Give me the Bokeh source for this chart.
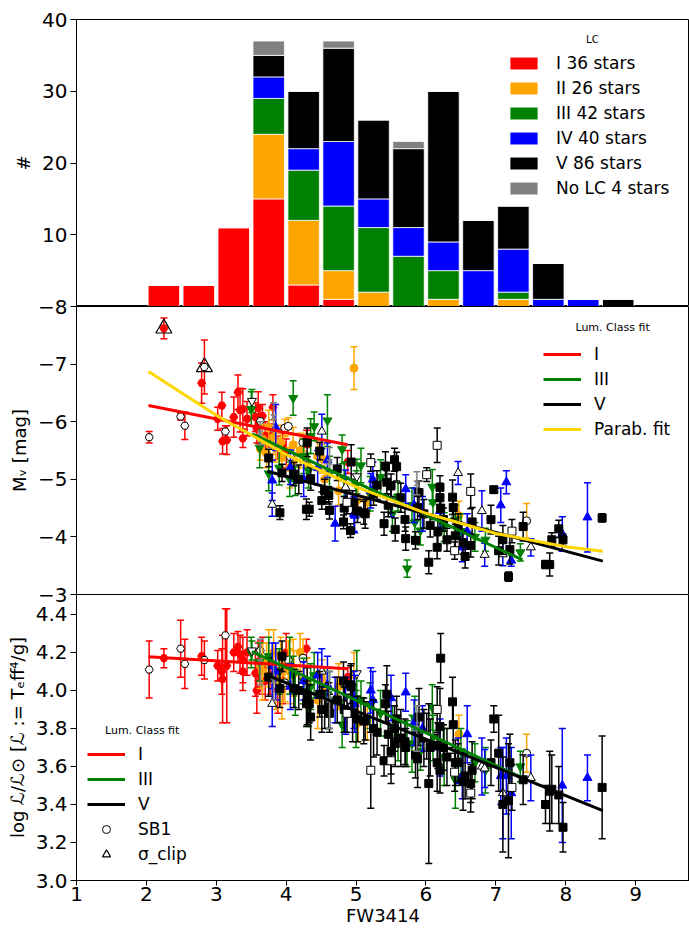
from bokeh.plotting import figure
from bokeh.models import (ColumnDataSource, Range1d, FixedTicker, Legend, LegendItem,
                          Label, PrintfTickFormatter)
from bokeh.layouts import column
from bokeh.embed import file_html
from bokeh.resources import INLINE

FONT = "DejaVu Sans"
RED, ORANGE, GREEN, BLUE, BLACK, GRAY, GOLD = ("#ff0000", "#ffa500", "#008000",
                                               "#0000ff", "#000000", "#808080", "#ffd700")

# ---------------- histogram (bins of 0.5 in FW3414) ----------------
hist_bin_centers = [2.25, 2.75, 3.25, 3.75, 4.25, 4.75, 5.25, 5.75, 6.25, 6.75, 7.25, 7.75, 8.25, 8.75]
hist_I = [3, 3, 11, 15, 3, 1, 0, 0, 0, 0, 0, 0, 0, 0]
hist_II = [0, 0, 0, 9, 9, 4, 2, 0, 1, 0, 1, 0, 0, 0]
hist_III = [0, 0, 0, 5, 7, 9, 9, 7, 4, 0, 1, 0, 0, 0]
hist_IV = [0, 0, 0, 3, 3, 9, 4, 4, 4, 5, 6, 1, 1, 0]
hist_V = [0, 0, 0, 3, 8, 13, 11, 11, 21, 7, 6, 5, 0, 1]
hist_NoLC = [0, 0, 0, 2, 0, 1, 0, 1, 0, 0, 0, 0, 0, 0]
hist_labels = ["I 36 stars", "II 26 stars", "III 42 stars", "IV 40 stars", "V 86 stars", "No LC 4 stars"]

# ---------------- stars per luminosity class ----------------
I_fw = [2.04, 2.25, 2.49, 2.55, 2.79, 2.83, 3.02, 3.08, 3.09, 3.13, 3.15, 3.25, 3.31, 3.34, 3.38, 3.38,
        3.44, 3.56, 3.58, 3.60, 3.62, 3.63, 3.66, 3.70, 3.77, 3.81, 3.88, 3.95, 4.00, 4.29, 4.88]
I_mv = [-5.73, -7.62, -6.09, -5.93, -6.67, -6.95, -6.05, -6.28, -5.66, -5.83, -5.68, -6.08, -6.51, -6.20,
        -6.22, -5.71, -6.05, -6.08, -5.88, -6.24, -5.93, -6.01, -6.10, -5.75, -5.76, -6.25, -5.55, -5.60,
        -5.45, -5.70, -5.30]
I_mv_err = [0.10, 0.18, 0.06, 0.24, 0.35, 0.47, 0.20, 0.23, 0.22, 0.10, 0.25, 0.35, 0.30, 0.38, 0.35, 0.16,
            0.30, 0.25, 0.25, 0.28, 0.30, 0.12, 0.20, 0.25, 0.20, 0.22, 0.20, 0.20, 0.25, 0.15, 0.20]
I_logl = [4.11, 4.17, 4.22, 4.14, 4.18, 4.16, 4.13, 4.10, 4.06, 4.29, 4.13, 4.20, 4.23, 4.19, 4.16, 4.10,
          4.20, 4.09, 4.00, 4.15, 4.12, 4.21, 4.13, 4.05, 4.08, 4.13, 4.00, 4.05, 4.20, 4.22, 4.07]
I_logl_err = [0.15, 0.05, 0.15, 0.13, 0.10, 0.10, 0.08, 0.12, 0.23, 0.14, 0.30, 0.10, 0.08, 0.10, 0.12, 0.10,
              0.12, 0.12, 0.12, 0.10, 0.10, 0.05, 0.15, 0.10, 0.10, 0.06, 0.12, 0.12, 0.10, 0.05, 0.05]
I_sb1 = [1, 0, 1, 1, 0, 1, 0, 0, 0, 1, 0, 0, 0, 0, 0, 0, 0, 0, 0, 0, 0, 1, 0, 0, 0, 0, 0, 0, 0, 0, 0]

II_fw = [3.63, 3.66, 3.72, 3.75, 3.82, 3.85, 3.92, 3.94, 3.98, 4.03, 4.05, 4.06, 4.10, 4.11, 4.20, 4.24,
         4.30, 4.45, 4.51, 4.55, 4.75, 4.97, 5.03, 5.16, 6.47, 7.44]
II_mv = [-5.53, -5.70, -5.45, -5.90, -5.73, -5.55, -5.64, -5.38, -5.89, -5.92, -5.20, -5.39, -5.60, -5.33,
         -5.50, -5.64, -5.25, -5.40, -5.36, -5.00, -4.80, -6.93, -4.65, -4.60, -4.37, -4.28]
II_mv_err = [0.20, 0.25, 0.25, 0.30, 0.30, 0.25, 0.30, 0.25, 0.15, 0.15, 0.35, 0.15, 0.30, 0.30, 0.30, 0.15,
             0.20, 0.25, 0.25, 0.30, 0.25, 0.37, 0.20, 0.20, 0.25, 0.30]
II_logl = [4.13, 4.10, 4.15, 4.17, 4.20, 4.05, 4.18, 4.00, 4.04, 4.16, 4.10, 4.03, 4.12, 4.09, 4.20, 4.17,
           4.05, 3.95, 4.06, 4.00, 4.02, 4.08, 3.83, 3.84, 3.77, 3.67]
II_logl_err = [0.12, 0.15, 0.10, 0.15, 0.12, 0.15, 0.10, 0.15, 0.10, 0.10, 0.12, 0.10, 0.15, 0.12, 0.10, 0.10,
               0.12, 0.15, 0.10, 0.12, 0.12, 0.12, 0.10, 0.10, 0.10, 0.10]
II_sb1 = [0, 0, 0, 0, 0, 0, 0, 0, 1, 1, 0, 1, 0, 0, 0, 1, 0, 0, 0, 0, 0, 0, 0, 0, 0, 1]

III_fw = [3.50, 3.51, 3.62, 3.75, 3.90, 4.05, 4.10, 4.13, 4.25, 4.32, 4.35, 4.40, 4.59, 4.62, 4.80, 4.83,
          5.00, 5.01, 5.07, 5.20, 5.35, 5.52, 5.60, 5.73, 5.80, 5.84, 5.92, 6.09, 6.10, 6.26, 6.42, 6.50,
          6.70, 6.85, 7.35]
III_mv = [-6.22, -6.36, -5.55, -5.10, -5.20, -5.00, -6.41, -4.97, -5.40, -5.15, -5.75, -5.92, -6.02, -5.10,
          -5.52, -5.00, -4.90, -5.05, -5.24, -4.75, -5.04, -4.40, -4.70, -3.45, -4.55, -4.25, -4.11, -4.87,
          -4.60, -4.17, -4.30, -4.10, -4.00, -3.95, -3.73]
III_mv_err = [0.30, 0.20, 0.35, 0.30, 0.30, 0.30, 0.30, 0.25, 0.30, 0.30, 0.30, 0.25, 0.45, 0.30, 0.25, 0.30,
              0.25, 0.30, 0.30, 0.30, 0.30, 0.30, 0.25, 0.15, 0.30, 0.25, 0.25, 0.30, 0.30, 0.25, 0.25, 0.30,
              0.25, 0.20, 0.15]
III_logl = [4.20, 4.21, 4.15, 4.18, 4.10, 4.13, 4.08, 3.99, 4.05, 3.91, 4.02, 4.08, 3.98, 3.95, 3.82, 3.90,
            3.85, 4.09, 3.95, 3.92, 3.88, 3.80, 3.75, 3.72, 3.72, 3.85, 3.68, 3.91, 3.75, 3.65, 3.53, 3.68,
            3.62, 3.58, 3.60]
III_logl_err = [0.08, 0.05, 0.10, 0.10, 0.12, 0.15, 0.10, 0.12, 0.12, 0.10, 0.12, 0.12, 0.12, 0.15, 0.12, 0.12,
                0.15, 0.12, 0.10, 0.12, 0.12, 0.12, 0.12, 0.12, 0.15, 0.12, 0.10, 0.12, 0.12, 0.15, 0.15, 0.12,
                0.10, 0.12, 0.08]
III_sb1 = [0, 1, 0, 0, 0, 0, 0, 0, 0, 0, 0, 0, 0, 0, 0, 0, 0, 1, 0, 0, 0, 0, 0, 0, 0, 0, 0, 0, 0, 0,
           0, 0, 0, 0, 0]

IV_fw = [3.80, 3.80, 3.85, 4.06, 4.25, 4.45, 4.51, 4.59, 4.70, 4.85, 4.97, 4.98, 5.21, 5.24, 5.50, 5.71,
         5.83, 5.95, 6.20, 6.46, 6.52, 6.59, 6.80, 6.84, 7.07, 7.10, 7.15, 7.22, 7.50, 7.95, 8.31]
IV_mv = [-4.98, -4.56, -5.90, -5.21, -5.00, -5.20, -5.83, -5.33, -4.23, -4.86, -4.40, -4.37, -4.80, -5.00,
         -4.65, -4.83, -4.55, -4.40, -4.45, -5.11, -3.82, -4.10, -4.45, -3.69, -4.55, -3.70, -4.95, -3.59,
         -3.82, -4.05, -4.34]
IV_mv_err = [0.35, 0.20, 0.40, 0.30, 0.30, 0.30, 0.30, 0.30, 0.30, 0.30, 0.30, 0.30, 0.30, 0.30, 0.30, 0.25,
             0.30, 0.30, 0.30, 0.20, 0.25, 0.30, 0.35, 0.20, 0.30, 0.20, 0.20, 0.10, 0.15, 0.30, 0.60]
IV_logl = [4.13, 3.93, 4.10, 4.02, 4.05, 4.08, 4.10, 4.03, 3.95, 3.92, 3.95, 3.93, 4.00, 3.95, 3.96, 3.99,
           3.83, 3.80, 3.70, 3.63, 3.55, 3.77, 3.60, 3.59, 3.55, 3.46, 3.55, 3.46, 3.54, 3.50, 3.54]
IV_logl_err = [0.12, 0.12, 0.15, 0.12, 0.10, 0.12, 0.12, 0.15, 0.12, 0.15, 0.15, 0.15, 0.12, 0.15, 0.12, 0.10,
               0.12, 0.12, 0.15, 0.12, 0.12, 0.15, 0.15, 0.10, 0.15, 0.24, 0.20, 0.24, 0.12, 0.30, 0.12]
IV_sb1 = [0, 1, 0, 0, 0, 0, 1, 0, 0, 1, 0, 0, 0, 0, 0, 0, 0, 0, 0, 1, 0, 0, 1, 1, 0, 1, 0, 0, 1, 0, 0]

V_fw = [3.75, 3.91, 3.94, 4.11, 4.18, 4.29, 4.30, 4.33, 4.35, 4.48,
        4.51, 4.55, 4.61, 4.62, 4.73, 4.82, 4.83, 4.92, 4.93, 4.95,
        5.02, 5.11, 5.13, 5.25, 5.30, 5.40, 5.42, 5.44, 5.46, 5.50,
        5.55, 5.56, 5.58, 5.64, 5.70, 5.71, 5.85, 5.88, 5.90, 5.97,
        6.04, 6.06, 6.16, 6.17, 6.20, 6.20, 6.21, 6.25, 6.30, 6.38,
        6.39, 6.42, 6.46, 6.53, 6.56, 6.64, 6.66, 6.93, 6.97, 7.04,
        7.10, 7.18, 7.20, 7.39, 7.71, 7.77, 7.80, 7.90, 7.96, 8.52,
        5.21, 6.01, 6.16, 6.64, 6.41, 4.87, 7.23, 5.50]
V_mv = [-5.37, -4.42, -5.11, -5.09, -5.00, -4.48, -5.64, -4.48, -5.01, -5.49,
        -4.63, -4.80, -4.72, -4.46, -5.18, -4.26, -4.50, -4.11, -5.30, -4.60,
        -4.45, -4.42, -4.40, -4.75, -4.90, -4.23, -5.23, -4.95, -4.55, -4.89,
        -5.34, -4.13, -5.22, -4.68, -4.30, -3.97, -3.94, -4.50, -4.77, -4.40,
        -3.56, -4.20, -3.82, -4.10, -4.86, -4.68, -4.50, -4.30, -3.95, -4.69,
        -4.51, -4.02, -4.20, -3.90, -3.66, -3.85, -4.26, -4.30, -4.82, -3.76,
        -3.95, -3.31, -3.78, -4.18, -3.52, -3.52, -3.95, -4.14, -3.95, -4.33,
        -5.29, -5.08, -5.59, -4.79, -3.76, -4.60, -4.10, -4.62]
V_mv_err = [0.15, 0.12, 0.15, 0.20, 0.25, 0.18, 0.25, 0.12, 0.20, 0.15,
            0.15, 0.20, 0.15, 0.15, 0.20, 0.12, 0.20, 0.12, 0.30, 0.20,
            0.20, 0.20, 0.25, 0.20, 0.25, 0.20, 0.25, 0.20, 0.20, 0.20,
            0.20, 0.20, 0.25, 0.25, 0.20, 0.20, 0.15, 0.20, 0.20, 0.25,
            0.20, 0.20, 0.20, 0.25, 0.20, 0.25, 0.20, 0.20, 0.20, 0.30,
            0.20, 0.20, 0.20, 0.20, 0.20, 0.20, 0.25, 0.25, 0.05, 0.25,
            0.25, 0.08, 0.25, 0.25, 0.07, 0.20, 0.12, 0.15, 0.10, 0.07,
            0.15, 0.12, 0.30, 0.30, 0.15, 0.20, 0.20, 0.20]
V_logl = [4.07, 4.01, 4.18, 4.01, 4.00, 3.93, 3.97, 3.93, 3.86, 3.98,
          3.90, 3.90, 3.92, 3.88, 3.95, 4.05, 3.90, 4.03, 4.02, 3.88,
          3.85, 3.84, 3.84, 3.80, 3.78, 3.63, 3.93, 3.98, 3.77, 3.68,
          3.80, 3.72, 3.85, 3.75, 3.73, 3.70, 3.66, 3.64, 3.86, 3.75,
          3.51, 3.70, 3.62, 3.71, 3.81, 3.58, 4.17, 3.70, 3.65, 3.94,
          3.82, 3.62, 3.62, 3.52, 3.55, 3.51, 3.58, 3.62, 3.85, 3.67,
          3.40, 3.42, 3.62, 3.53, 3.40, 3.47, 3.48, 3.45, 3.28, 3.49,
          3.58, 3.76, 3.90, 3.46, 3.57, 3.88, 3.49, 3.63]
V_logl_err = [0.10, 0.10, 0.08, 0.10, 0.10, 0.12, 0.15, 0.10, 0.12, 0.12,
              0.12, 0.10, 0.12, 0.10, 0.12, 0.10, 0.12, 0.10, 0.12, 0.15,
              0.12, 0.12, 0.10, 0.15, 0.12, 0.08, 0.10, 0.15, 0.12, 0.12,
              0.12, 0.12, 0.12, 0.15, 0.12, 0.10, 0.12, 0.15, 0.15, 0.15,
              0.42, 0.15, 0.15, 0.12, 0.20, 0.12, 0.13, 0.12, 0.15, 0.13,
              0.12, 0.12, 0.10, 0.15, 0.12, 0.10, 0.15, 0.12, 0.07, 0.20,
              0.25, 0.30, 0.15, 0.13, 0.10, 0.21, 0.18, 0.15, 0.13, 0.27,
              0.20, 0.12, 0.12, 0.10, 0.10, 0.10, 0.12, 0.12]
V_sb1 = [0, 0, 0, 0, 0, 0, 0, 0, 0, 0,
         0, 0, 0, 0, 0, 0, 0, 0, 0, 0,
         0, 0, 0, 0, 0, 0, 0, 0, 0, 0,
         0, 0, 0, 0, 0, 0, 0, 0, 0, 0,
         0, 0, 0, 0, 0, 0, 0, 0, 0, 0,
         0, 0, 0, 0, 0, 0, 0, 0, 0, 0,
         0, 0, 0, 0, 0, 0, 0, 0, 0, 0,
         1, 1, 1, 1, 1, 1, 1, 1]

NoLC_fw = [3.63, 3.82, 4.62, 5.87]
NoLC_mv = [-5.80, -6.08, -5.30, -4.93]
NoLC_mv_err = [0.20, 0.25, 0.25, 0.20]
NoLC_logl = [4.15, 4.05, 3.95, 3.80]
NoLC_logl_err = [0.12, 0.10, 0.15, 0.12]
NoLC_sb1 = [0, 0, 0, 0]

clip_fw = [2.25, 2.83]
clip_mv = [-7.62, -6.95]

# ---------------- fits ----------------
fitI_fw = [2.03, 4.88]
fitI_mv = [-6.28, -5.60]
fitI_logl = [4.178, 4.114]
fitIII_fw = [3.51, 7.38]
fitIII_mv = [-5.79, -3.60]
fitIII_logl = [4.204, 3.54]
fitV_fw = [3.73, 8.53]
fitV_mv = [-5.14, -3.58]
fitV_logl = [4.08, 3.368]
parab_fw = [2.03, 3.0, 4.0, 5.0, 6.0, 7.0, 8.0, 8.53]
parab_mv = [-6.87, -6.11, -5.43, -4.87, -4.41, -4.06, -3.83, -3.75]

# legend proxies (placed outside the visible x range)
proxy_fw = [0.0]
proxy_logl = [3.5]

xr = Range1d(1.0, 9.77)
OVER = 12  # px of overlap between stacked canvases, so edge tick labels are not cut


def style(p):
    p.outline_line_color = "black"
    p.outline_line_width = 1
    p.xgrid.visible = False
    p.ygrid.visible = False
    p.background_fill_color = "white"
    for ax in p.axis:
        ax.major_label_text_font = FONT
        ax.major_label_text_font_size = "20px"
        ax.major_label_text_color = "black"
        ax.axis_label_text_font = FONT
        ax.axis_label_text_font_size = "18px"
        ax.axis_label_text_font_style = "normal"
        ax.axis_label_text_color = "black"
        ax.major_tick_in = 0
        ax.major_tick_out = 6
        ax.minor_tick_in = 0
        ax.minor_tick_out = 0
        ax.axis_line_color = "black"
        ax.major_tick_line_color = "black"
        ax.major_label_standoff = 3


common = dict(width=689, x_range=xr, output_backend="svg", toolbar_location=None,
              min_border_left=76, min_border_right=0)

# ---------------- top: histogram ----------------
p1 = figure(height=306, y_range=Range1d(0, 40), x_axis_location=None,
            min_border_top=19, min_border_bottom=0, **common)
style(p1)
p1.border_fill_color = "white"
p1.yaxis.ticker = FixedTicker(ticks=[0, 10, 20, 30, 40])
p1.yaxis.major_label_overrides = {0: ""}
p1.yaxis.axis_label = "#"

src_h = ColumnDataSource(dict(x=hist_bin_centers, I=hist_I, II=hist_II, III=hist_III,
                              IV=hist_IV, V=hist_V, NoLC=hist_NoLC))
hist_r = p1.vbar_stack(["I", "II", "III", "IV", "V", "NoLC"], x="x", width=0.45, source=src_h,
                       fill_color=[RED, ORANGE, GREEN, BLUE, BLACK, GRAY],
                       line_color="white", line_width=0.8)
leg1 = Legend(items=[LegendItem(label=l, renderers=[r]) for l, r in zip(hist_labels, hist_r)],
              location=(430, 108), glyph_width=35, glyph_height=16, label_standoff=15,
              label_height=20, spacing=5, padding=4, margin=0,
              label_text_font=FONT, label_text_font_size="17px", label_text_color="black",
              background_fill_alpha=0, border_line_color=None)
p1.add_layout(leg1)
p1.add_layout(Label(x=8.38, y=37.2, text="LC", text_font=FONT, text_font_size="10px",
                    text_align="center", text_baseline="middle", text_color="black"))


def draw_class(p, fw, yv, ye, sb1, color, marker, size):
    lo = [v - e for v, e in zip(yv, ye)]
    hi = [v + e for v, e in zip(yv, ye)]
    src = ColumnDataSource(dict(x=fw, y=yv, lo=lo, hi=hi))
    p.segment(x0="x", y0="lo", x1="x", y1="hi", source=src, line_color=color, line_width=1.5)
    p.scatter(x="x", y="lo", marker="dash", size=7, source=src, line_color=color, line_width=1.5)
    p.scatter(x="x", y="hi", marker="dash", size=7, source=src, line_color=color, line_width=1.5)
    fi = [i for i, s in enumerate(sb1) if not s]
    oi = [i for i, s in enumerate(sb1) if s]
    if fi:
        if marker == "x":
            p.scatter([fw[i] for i in fi], [yv[i] for i in fi], marker=marker, size=size,
                      line_color=color, line_width=1.5)
        else:
            p.scatter([fw[i] for i in fi], [yv[i] for i in fi], marker=marker, size=size,
                      fill_color=color, line_color=color)
    if oi:
        p.scatter([fw[i] for i in oi], [yv[i] for i in oi], marker=marker, size=size,
                  fill_color="white", line_color="black", line_width=1)


classes = [
    (I_fw, I_mv, I_mv_err, I_logl, I_logl_err, I_sb1, RED, "hex", 8),
    (II_fw, II_mv, II_mv_err, II_logl, II_logl_err, II_sb1, ORANGE, "circle", 8),
    (III_fw, III_mv, III_mv_err, III_logl, III_logl_err, III_sb1, GREEN, "inverted_triangle", 9),
    (IV_fw, IV_mv, IV_mv_err, IV_logl, IV_logl_err, IV_sb1, BLUE, "triangle", 9),
    (V_fw, V_mv, V_mv_err, V_logl, V_logl_err, V_sb1, BLACK, "square", 8),
    (NoLC_fw, NoLC_mv, NoLC_mv_err, NoLC_logl, NoLC_logl_err, NoLC_sb1, GRAY, "x", 8),
]

# ---------------- middle: Mv ----------------
p2 = figure(height=288 + 2 * OVER, y_range=Range1d(-3, -8), x_axis_location=None,
            min_border_top=OVER, min_border_bottom=OVER, margin=(-OVER, 0, 0, 0), **common)
style(p2)
p2.border_fill_color = None
p2.yaxis.ticker = FixedTicker(ticks=[-8, -7, -6, -5, -4, -3])
p2.yaxis.major_label_overrides = {-8: "\u22128", -7: "\u22127", -6: "\u22126",
                                  -5: "\u22125", -4: "\u22124", -3: "\u22123"}
p2.yaxis.axis_label = "M\u1d65 [mag]"
for fw, mv, mve, ll, lle, sb, col, mk, sz in classes:
    draw_class(p2, fw, mv, mve, sb, col, mk, sz)
p2.scatter(clip_fw, clip_mv, marker="triangle", size=16, fill_color=None,
           line_color="black", line_width=1.2)
l2I = p2.line(fitI_fw, fitI_mv, line_color=RED, line_width=3)
l2III = p2.line(fitIII_fw, fitIII_mv, line_color=GREEN, line_width=3)
l2V = p2.line(fitV_fw, fitV_mv, line_color=BLACK, line_width=3)
l2P = p2.line(parab_fw, parab_mv, line_color=GOLD, line_width=3)
leg2 = Legend(items=[LegendItem(label="I", renderers=[l2I]), LegendItem(label="III", renderers=[l2III]),
                     LegendItem(label="V", renderers=[l2V]), LegendItem(label="Parab. fit", renderers=[l2P])],
              location=(467, 155), glyph_width=38, glyph_height=20, label_standoff=13,
              label_height=20, spacing=5, padding=4, margin=0,
              label_text_font=FONT, label_text_font_size="17px", label_text_color="black",
              background_fill_alpha=0, border_line_color=None)
p2.add_layout(leg2)
p2.add_layout(Label(x=8.67, y=-7.64, text="Lum. Class fit", text_font=FONT, text_font_size="11px",
                    text_align="center", text_baseline="middle", text_color="black"))

# ---------------- bottom: log L ----------------
p3 = figure(height=334, y_range=Range1d(3.0, 4.505), min_border_top=0, min_border_bottom=0,
            margin=(-OVER, 0, 0, 0), **common)
style(p3)
p3.border_fill_color = None
p3.yaxis.ticker = FixedTicker(ticks=[3.0, 3.2, 3.4, 3.6, 3.8, 4.0, 4.2, 4.4])
p3.yaxis.formatter = PrintfTickFormatter(format="%.1f")
p3.yaxis.axis_label = "log \u2112/\u2112\u2299 [\u2112 := T\u2091ff\u2074/g]"
p3.xaxis.ticker = FixedTicker(ticks=[1, 2, 3, 4, 5, 6, 7, 8, 9])
p3.xaxis.axis_label = "FW3414"
p3.xaxis.major_label_standoff = 1
p3.xaxis.axis_label_standoff = 1
p3.xaxis.major_tick_out = 5
for fw, mv, mve, ll, lle, sb, col, mk, sz in classes:
    draw_class(p3, fw, ll, lle, sb, col, mk, sz)
l3I = p3.line(fitI_fw, fitI_logl, line_color=RED, line_width=3)
l3III = p3.line(fitIII_fw, fitIII_logl, line_color=GREEN, line_width=3)
l3V = p3.line(fitV_fw, fitV_logl, line_color=BLACK, line_width=3)
r_sb1 = p3.scatter(proxy_fw, proxy_logl, marker="circle", size=8, fill_color="white",
                   line_color="black", line_width=1)
r_clip = p3.scatter(proxy_fw, proxy_logl, marker="triangle", size=16, fill_color=None,
                    line_color="black", line_width=1.2)
leg3 = Legend(items=[LegendItem(label="I", renderers=[l3I]), LegendItem(label="III", renderers=[l3III]),
                     LegendItem(label="V", renderers=[l3V]), LegendItem(label="SB1", renderers=[r_sb1]),
                     LegendItem(label="\u03c3_clip", renderers=[r_clip])],
              location=(11, 16), glyph_width=38, glyph_height=20, label_standoff=13,
              label_height=20, spacing=5, padding=4, margin=0,
              label_text_font=FONT, label_text_font_size="17px", label_text_color="black",
              background_fill_alpha=0, border_line_color=None)
p3.add_layout(leg3)
p3.add_layout(Label(x=1.94, y=3.791, text="Lum. Class fit", text_font=FONT, text_font_size="11px",
                    text_align="center", text_baseline="middle", text_color="black"))

layout = column(p1, p2, p3, spacing=0)
open("out.html", "w").write(file_html(layout, INLINE))
